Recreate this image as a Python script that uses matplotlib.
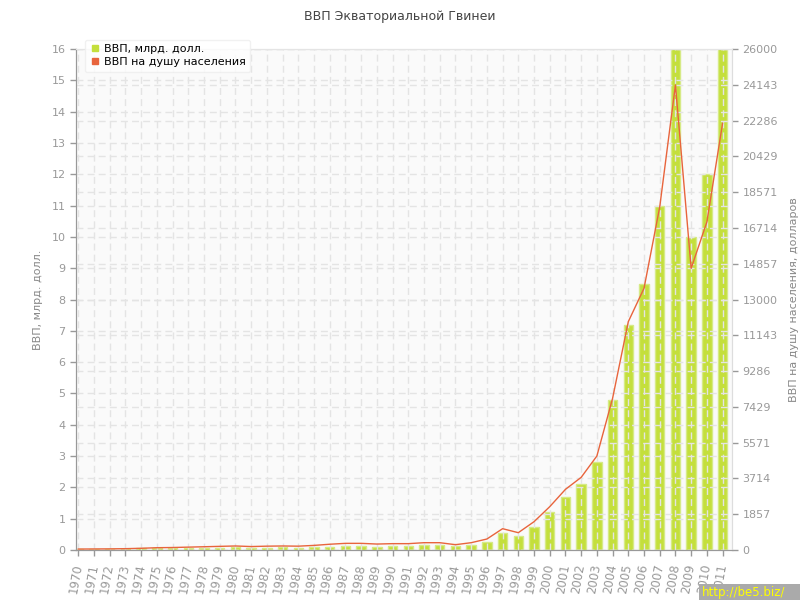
import numpy as np
import matplotlib
matplotlib.use("Agg")
import matplotlib.pyplot as plt
from matplotlib.lines import Line2D

# data
years = list(range(1970, 2012))
gdp_bn = [0.03, 0.03, 0.04, 0.04, 0.05, 0.06, 0.06, 0.07, 0.07, 0.08,
          0.09, 0.08, 0.08, 0.09, 0.08, 0.09, 0.10, 0.12, 0.13, 0.11,
          0.12, 0.12, 0.15, 0.15, 0.12, 0.15, 0.27, 0.53, 0.45, 0.74,
          1.21, 1.70, 2.11, 2.80, 4.79, 7.19, 8.50, 11.0, 18.5, 10.0,
          12.0, 19.0]
gdp_pc = [50, 55, 60, 70, 90, 120, 130, 150, 170, 190,
          210, 180, 200, 210, 200, 240, 300, 346, 346, 310,
          330, 330, 380, 380, 277, 380, 571, 1107, 900, 1470,
          2249, 3148, 3771, 4878, 7870, 11850, 13580, 17800, 24132, 14619,
          17022, 22144]

left_ticks = list(range(0, 17))
right_ticks = np.linspace(0, 26000, 15)

title = "ВВП Экваториальной Гвинеи"
left_label = "ВВП, млрд. долл."
right_label = "ВВП на душу населения, долларов"
bar_name = "ВВП, млрд. долл."
line_name = "ВВП на душу населения"

tick_col = "#999999"
grid_col = "#e4e4e4"
bar_col = "#c4df3c"
line_col = "#e8643c"

plt.rcParams["font.family"] = ["DejaVu Sans"]

fig = plt.figure(figsize=(8, 6), dpi=100)
ax = fig.add_axes([0.095, 0.0833, 0.82, 0.835])
ax.set_facecolor("#fafafa")
x = np.arange(len(years))

ax.bar(x, gdp_bn, width=0.6, color=bar_col, edgecolor="#d6ea86", linewidth=1, zorder=2)
ax.set_ylim(0, 16)
ax.set_xlim(-0.15, len(years) - 0.4)
ax.set_yticks(left_ticks)
ax.set_xticks(x)
ax.set_xticklabels([str(y) for y in years], rotation=80, ha="right", va="center",
                   rotation_mode="anchor")
ax.tick_params(axis="both", colors=tick_col, labelsize=8, length=4, width=1)
ax.tick_params(axis="x", pad=6, labelsize=8.5)
ax.grid(True, color=grid_col, linestyle=(0, (5, 3)), linewidth=1, zorder=3)
ax.set_axisbelow(False)
ax.set_ylabel(left_label, color="#888888", fontsize=8, labelpad=6)

ax2 = ax.twinx()
ax2.plot(x, gdp_pc, color=line_col, linewidth=1, zorder=4)
ax2.set_ylim(0, 26000)
ax2.set_yticks(right_ticks)
ax2.set_yticklabels([str(int(round(v))) for v in right_ticks])
ax2.tick_params(axis="y", colors=tick_col, labelsize=8, length=4, width=1)
ax2.grid(True, axis="y", color=grid_col, linestyle=(0, (5, 3)), linewidth=1)
ax2.set_ylabel(right_label, color="#888888", fontsize=8, labelpad=8)

for a in (ax, ax2):
    a.spines["left"].set_color("#999999")
    a.spines["bottom"].set_color("#999999")
    a.spines["right"].set_color("#dddddd")
    a.spines["top"].set_color("#e4e4e4")

handles = [Line2D([], [], marker="s", linestyle="none", color=bar_col, markersize=5),
           Line2D([], [], marker="s", linestyle="none", color=line_col, markersize=5)]
leg = ax2.legend(handles, [bar_name, line_name], loc="upper left",
                 bbox_to_anchor=(0.005, 1.03), fontsize=8, frameon=True,
                 handletextpad=0.3, borderpad=0.4, labelspacing=0.3,
                 handlelength=1.0, fancybox=True)
leg.get_frame().set_edgecolor("#eeeeee")
leg.set_zorder(10)

fig.text(0.5, 0.972, title, ha="center", va="center", fontsize=9, color="#444444")
fig.patches.append(plt.Rectangle((0.874, 0.0), 0.126, 0.026, transform=fig.transFigure,
                                 facecolor="#aaaaaa", edgecolor="none"))
fig.text(0.877, 0.012, "http://be5.biz/", ha="left", va="center", fontsize=8.5,
         color="#ffff00")

fig.savefig("out.png", dpi=100)
